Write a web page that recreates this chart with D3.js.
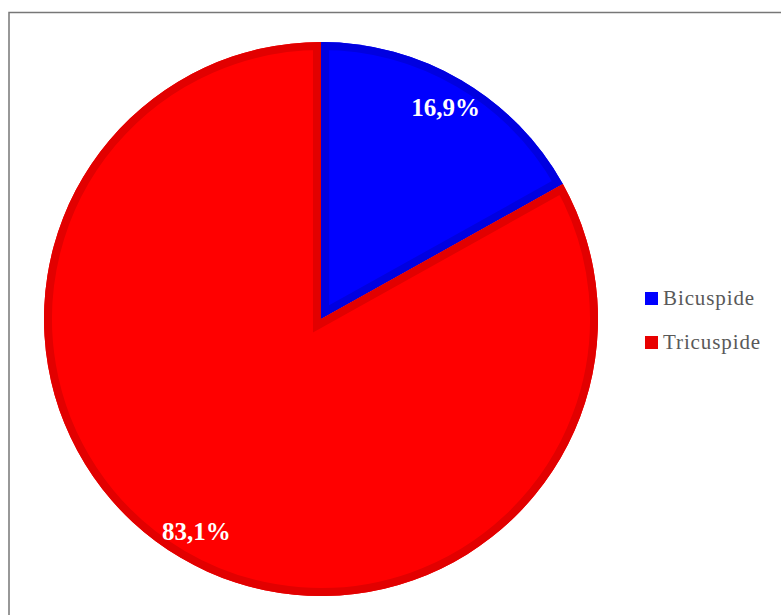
<!DOCTYPE html>
<html>
<head>
<meta charset="utf-8">
<script src="https://cdn.jsdelivr.net/npm/d3@7"></script>
<style>
body { margin: 0; background: #fff; }
</style>
</head>
<body>
<div id="chart"></div>
<script>
// data
var categories = ["Bicuspide", "Tricuspide"];
var values = [16.9, 83.1];
var labels = ["16,9%", "83,1%"];
var colors = ["#0000ff", "#ff0000"];
var edgeColors = ["#0000e0", "#e20000"];

var width = 781, height = 615;
var cx = 321, cy = 319, radius = 277;
var band = 8; // darker inner edge on each slice

var svg = d3.select("#chart")
	.append("svg")
	.attr("width", width)
	.attr("height", height);

// chart frame
svg.append("rect")
	.attr("x", 9)
	.attr("y", 12.5)
	.attr("width", 800)
	.attr("height", 650)
	.style("fill", "none")
	.style("stroke", "#777")
	.style("stroke-width", 1.5);

var pie = d3.pie().sort(null).value(function(d) { return d; });
var arcs = pie(values);
var arc = d3.arc().innerRadius(0).outerRadius(radius);
var labelArc = d3.arc().innerRadius(246).outerRadius(246);

var g = svg.append("g").attr("transform", "translate(" + cx + "," + cy + ")");

var defs = svg.append("defs");
defs.selectAll("clipPath")
	.data(arcs)
	.enter().append("clipPath")
	.attr("id", function(d, i) { return "clip" + i; })
	.append("path")
	.attr("d", arc);

var slice = g.selectAll(".slice")
	.data(arcs)
	.enter().append("g")
	.attr("class", "slice");

slice.append("path")
	.attr("d", arc)
	.style("fill", function(d, i) { return colors[i]; });

// inner band: double-width stroke clipped to the slice
slice.append("path")
	.attr("d", arc)
	.attr("clip-path", function(d, i) { return "url(#clip" + i + ")"; })
	.style("fill", "none")
	.style("stroke", function(d, i) { return edgeColors[i]; })
	.style("stroke-width", band * 2)
	.style("stroke-linejoin", "miter");

g.selectAll(".lbl")
	.data(arcs)
	.enter().append("text")
	.attr("class", "lbl")
	.attr("transform", function(d) { return "translate(" + labelArc.centroid(d) + ")"; })
	.attr("text-anchor", "middle")
	.attr("dy", "0.35em")
	.style("font-family", "'Liberation Serif', 'Times New Roman', serif")
	.style("font-weight", "bold")
	.style("font-size", "25px")
	.style("fill", "#fff")
	.text(function(d, i) { return labels[i]; });

// legend
var legend = svg.selectAll(".legend")
	.data(categories)
	.enter().append("g")
	.attr("class", "legend")
	.attr("transform", function(d, i) { return "translate(645," + (292 + i * 44) + ")"; });

legend.append("rect")
	.attr("width", 13)
	.attr("height", 13)
	.style("fill", function(d, i) { return i == 0 ? "#0000ff" : "#e80000"; });

legend.append("text")
	.attr("x", 18)
	.attr("y", 13)
	.style("font-family", "'Liberation Serif', 'Times New Roman', serif")
	.style("font-size", "21px")
	.style("letter-spacing", "0.9px")
	.style("fill", "#595959")
	.text(function(d) { return d; });
</script>
</body>
</html>
